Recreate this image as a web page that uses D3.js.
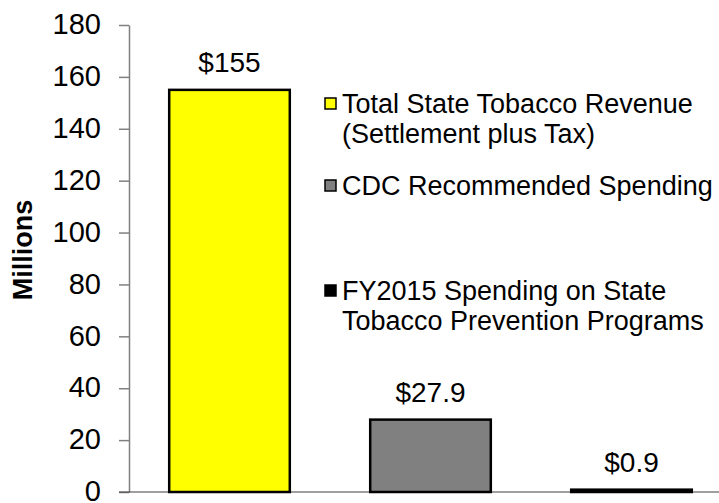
<!DOCTYPE html>
<html>
<head>
<meta charset="utf-8">
<script src="https://cdn.jsdelivr.net/npm/d3@7"></script>
<style>
  body { margin: 0; background: #fff; }
  svg text { font-family: "Liberation Sans", Arial, sans-serif; fill: #000; }
</style>
</head>
<body>
<div id="chart"><svg></svg></div>
<script>
// data
var categories = ["Total State Tobacco Revenue (Settlement plus Tax)", "CDC Recommended Spending", "FY2015 Spending on State Tobacco Prevention Programs"];
var values = [155, 27.9, 0.9];
var labels = ["$155", "$27.9", "$0.9"];
var colors = ["#ffff00", "#808080", "#000000"];
var yTicks = [0, 20, 40, 60, 80, 100, 120, 140, 160, 180];
var legendLines = [
    ["Total State Tobacco Revenue", "(Settlement plus Tax)"],
    ["CDC Recommended Spending"],
    ["FY2015 Spending on State", "Tobacco Prevention Programs"]
];

var W = 719, H = 503;
var L = 129, T = 25, B = 492, R = 732;

var svg = d3.select("#chart svg")
    .attr("width", W)
    .attr("height", H);

var x = d3.scaleBand()
    .domain(d3.range(values.length))
    .range([L, R])
    .paddingInner(0.4)
    .paddingOuter(0.2);
var y = d3.scaleLinear()
    .domain([0, 180])
    .range([B, T]);

// y axis
var gyAxis = svg.append("g")
    .attr("class", "y-axis")
    .attr("transform", "translate(" + L + ",0)")
    .call(d3.axisLeft(y).tickValues(yTicks).tickSize(10).tickPadding(18).tickSizeOuter(0));
gyAxis.select(".domain").attr("stroke", "#808080").attr("stroke-width", 1.5);
gyAxis.selectAll(".tick line").attr("stroke", "#808080").attr("stroke-width", 1.5);
gyAxis.selectAll(".tick text")
    .style("font-family", "'Liberation Sans', Arial, sans-serif")
    .style("font-size", "29px")
    .attr("dy", "0.3em")
    .attr("fill", "#000");

// baseline
svg.append("line")
    .attr("x1", L - 10).attr("x2", W)
    .attr("y1", y(0)).attr("y2", y(0))
    .attr("stroke", "#404040")
    .attr("stroke-width", 1.2);

// bars
var gData = svg.append("g").attr("class", "data");
gData.selectAll("rect")
    .data(values)
    .enter()
    .append("rect")
    .attr("x", function(d, i) { return x(i); })
    .attr("y", function(d) { return y(d); })
    .attr("width", x.bandwidth())
    .attr("height", function(d) { return y(0) - y(d); })
    .attr("fill", function(d, i) { return colors[i]; })
    .attr("stroke", "#000")
    .attr("stroke-width", 2.5);

gData.selectAll("text")
    .data(values)
    .enter()
    .append("text")
    .attr("x", function(d, i) { return x(i) + x.bandwidth() / 2; })
    .attr("y", function(d) { return y(d) - 18; })
    .attr("text-anchor", "middle")
    .style("font-size", "28px")
    .text(function(d, i) { return labels[i]; });

// y title
svg.append("text")
    .attr("transform", "translate(32,250) rotate(-90)")
    .attr("text-anchor", "middle")
    .style("font-size", "27px")
    .style("font-weight", "bold")
    .text("Millions");

// legend
var legendY = [103, 185, 290];
var gLegend = svg.append("g").attr("class", "legend");
legendLines.forEach(function(lines, i) {
    gLegend.append("rect")
        .attr("x", 325)
        .attr("y", legendY[i] - 5)
        .attr("width", 11)
        .attr("height", 11)
        .attr("fill", colors[i])
        .attr("stroke", "#000")
        .attr("stroke-width", 1.5);
    lines.forEach(function(t, j) {
        gLegend.append("text")
            .attr("x", 342)
            .attr("y", legendY[i] + 10 + j * 30)
            .style("font-size", "27px")
            .text(t);
    });
});
</script>
</body>
</html>
